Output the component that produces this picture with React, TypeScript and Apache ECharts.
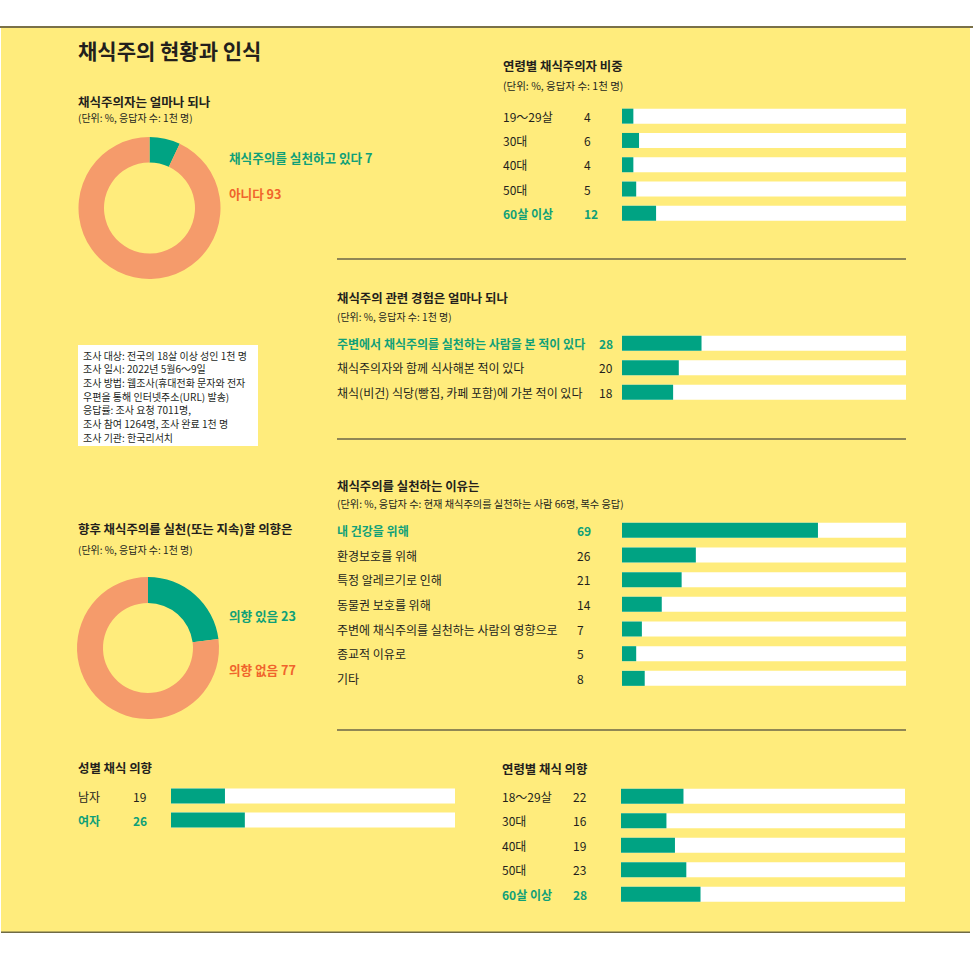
import React, { useEffect, useRef } from 'react';
import * as echarts from 'echarts';

const FONT = "'Noto Sans CJK KR', 'Noto Sans', sans-serif";
const GREEN = '#00a383';
const GREEN_TEXT = '#10a078';
const ORANGE = '#f59b6b';
const ORANGE_TEXT = '#f0642c';
const DARK = '#231f1c';
const YELLOW = '#ffec7c';

// ---- data ----
const mainTitle = '채식주의 현황과 인식';

const vegShareTitle = '채식주의자는 얼마나 되나';
const vegShareNames = ['채식주의를 실천하고 있다', '아니다'];
const vegShareValues = [7, 93];

const ageShareTitle = '연령별 채식주의자 비중';
const ageShareLabels = ['19～29살', '30대', '40대', '50대', '60살 이상'];
const ageShareValues = [4, 6, 4, 5, 12];

const expTitle = '채식주의 관련 경험은 얼마나 되나';
const expLabels = [
  '주변에서 채식주의를 실천하는 사람을 본 적이 있다',
  '채식주의자와 함께 식사해본 적이 있다',
  '채식(비건) 식당(빵집, 카페 포함)에 가본 적이 있다',
];
const expValues = [28, 20, 18];

const reasonTitle = '채식주의를 실천하는 이유는';
const reasonSub = '(단위: %, 응답자 수: 현재 채식주의를 실천하는 사람 66명, 복수 응답)';
const reasonLabels = [
  '내 건강을 위해',
  '환경보호를 위해',
  '특정 알레르기로 인해',
  '동물권 보호를 위해',
  '주변에 채식주의를 실천하는 사람의 영향으로',
  '종교적 이유로',
  '기타',
];
const reasonValues = [69, 26, 21, 14, 7, 5, 8];

const intentTitle = '향후 채식주의를 실천(또는 지속)할 의향은';
const intentNames = ['의향 있음', '의향 없음'];
const intentValues = [23, 77];

const genderTitle = '성별 채식 의향';
const genderLabels = ['남자', '여자'];
const genderValues = [19, 26];

const ageIntentTitle = '연령별 채식 의향';
const ageIntentLabels = ['18～29살', '30대', '40대', '50대', '60살 이상'];
const ageIntentValues = [22, 16, 19, 23, 28];

const unitSub = '(단위: %, 응답자 수: 1천 명)';

const surveyLines = [
  '조사 대상: 전국의 18살 이상 성인 1천 명',
  '조사 일시: 2022년 5월6～9일',
  '조사 방법: 웹조사(휴대전화 문자와 전자',
  '우편을 통해 인터넷주소(URL) 발송)',
  '응답률: 조사 요청 7011명,',
  '조사 참여 1264명, 조사 완료 1천 명',
  '조사 기관: 한국리서치',
];

export default function App() {
  const ref = useRef<HTMLDivElement>(null);

  useEffect(() => {
    const chart = echarts.init(ref.current!, null, { renderer: 'svg' });

    const barSections = [
      { labels: ageShareLabels, values: ageShareValues, hl: 4, labelX: 503, valueX: 584, left: 622, top: 104, rowH: 24.3 },
      { labels: expLabels, values: expValues, hl: 0, labelX: 337, valueX: 599, left: 622, top: 331, rowH: 24.5 },
      { labels: reasonLabels, values: reasonValues, hl: 0, labelX: 337, valueX: 577, left: 622, top: 518, rowH: 24.67 },
      { labels: genderLabels, values: genderValues, hl: 1, labelX: 78, valueX: 133, left: 171, top: 784, rowH: 24 },
      { labels: ageIntentLabels, values: ageIntentValues, hl: 4, labelX: 502, valueX: 573, left: 621, top: 784, rowH: 24.5 },
    ];

    const txt = (text: string, x: number, y: number, size: number, color = DARK, weight: any = 'normal') => ({
      type: 'text',
      x,
      y,
      silent: true,
      z: 10,
      style: { text, fill: color, fontSize: size, fontWeight: weight, fontFamily: FONT, align: 'left', verticalAlign: 'middle' },
    });

    const graphics: any[] = [
      { type: 'rect', shape: { x: 0, y: 26, width: 973, height: 2 }, style: { fill: '#7a7148' }, z: 0, silent: true },
      { type: 'rect', shape: { x: 1, y: 28, width: 969, height: 904 }, style: { fill: YELLOW }, z: 0, silent: true },
      { type: 'rect', shape: { x: 1, y: 931.5, width: 969, height: 1.6 }, style: { fill: '#6f6a45' }, z: 1, silent: true },
      ...[259, 439, 730].map((y) => ({
        type: 'line',
        shape: { x1: 337, y1: y, x2: 906, y2: y },
        style: { stroke: '#6b6649', lineWidth: 1.5 },
        z: 1,
        silent: true,
      })),
      { type: 'rect', shape: { x: 78, y: 345, width: 180, height: 101 }, style: { fill: '#ffffff' }, z: 1, silent: true },
      ...surveyLines.map((l, i) => txt(l, 83, 355 + i * 13.7, 10)),
      txt(mainTitle, 78, 50, 21, DARK, 'bold'),
      txt(vegShareTitle, 78, 101, 12.5, DARK, 'bold'),
      txt(unitSub, 78, 117, 10),
      txt(ageShareTitle, 503, 66, 12.4, DARK, 'bold'),
      txt(unitSub, 503, 85, 10.5),
      txt(expTitle, 337, 298, 12.4, DARK, 'bold'),
      txt(unitSub, 337, 316, 10),
      txt(reasonTitle, 337, 486, 12.4, DARK, 'bold'),
      txt(reasonSub, 337, 503, 10.2),
      txt(intentTitle, 78, 529, 12.4, DARK, 'bold'),
      txt(unitSub, 78, 549, 10),
      txt(genderTitle, 78, 768, 12.4, DARK, 'bold'),
      txt(ageIntentTitle, 502, 769, 12.4, DARK, 'bold'),
      txt(`${vegShareNames[0]} ${vegShareValues[0]}`, 229, 157, 12.6, GREEN_TEXT, 'bold'),
      txt(`${vegShareNames[1]} ${vegShareValues[1]}`, 229, 193, 12.6, ORANGE_TEXT, 'bold'),
      txt(`${intentNames[0]} ${intentValues[0]}`, 229, 615, 12.6, GREEN_TEXT, 'bold'),
      txt(`${intentNames[1]} ${intentValues[1]}`, 229, 669, 12.6, ORANGE_TEXT, 'bold'),
    ];

    const labelSize = 12;

    const option: any = {
      animation: false,
      backgroundColor: '#ffffff',
      textStyle: { fontFamily: FONT },
      graphic: { elements: graphics },
      grid: barSections.map((s) => ({
        left: s.left,
        top: s.top,
        width: 284,
        height: s.rowH * s.labels.length,
        containLabel: false,
      })),
      xAxis: barSections.map((_, i) => ({ gridIndex: i, type: 'value', min: 0, max: 100, show: false })),
      yAxis: barSections.map((s, i) => ({
        gridIndex: i,
        type: 'category',
        inverse: true,
        data: s.labels,
        axisLine: { show: false },
        axisTick: { show: false },
        splitLine: { show: false },
        axisLabel: {
          show: true,
          interval: 0,
          align: 'left',
          margin: s.left - s.labelX,
          formatter: (v: string, idx: number) => {
            const h = idx === s.hl;
            return `{${h ? 'nh' : 'n'}|${v}}{${h ? 'vh' : 'v'}|${s.values[idx]}}`;
          },
          rich: {
            n: { width: s.valueX - s.labelX, fontSize: labelSize, color: DARK, fontFamily: FONT },
            nh: { width: s.valueX - s.labelX, fontSize: labelSize, color: GREEN_TEXT, fontWeight: 'bold', fontFamily: FONT },
            v: { fontSize: labelSize, color: DARK, fontFamily: FONT },
            vh: { fontSize: labelSize, color: GREEN_TEXT, fontWeight: 'bold', fontFamily: FONT },
          },
        },
      })),
      series: [
        ...barSections.map((s, i) => ({
          type: 'bar',
          xAxisIndex: i,
          yAxisIndex: i,
          data: s.values,
          barWidth: 15,
          itemStyle: { color: GREEN },
          showBackground: true,
          backgroundStyle: { color: '#ffffff' },
          silent: true,
          z: 5,
        })),
        {
          type: 'pie',
          center: [149.5, 208],
          radius: [45.5, 71],
          startAngle: 90,
          clockwise: true,
          silent: true,
          label: { show: false },
          labelLine: { show: false },
          data: vegShareNames.map((n, i) => ({ name: n, value: vegShareValues[i], itemStyle: { color: i === 0 ? GREEN : ORANGE } })),
          z: 5,
        },
        {
          type: 'pie',
          center: [148, 648],
          radius: [45, 71],
          startAngle: 90,
          clockwise: true,
          silent: true,
          label: { show: false },
          labelLine: { show: false },
          data: intentNames.map((n, i) => ({ name: n, value: intentValues[i], itemStyle: { color: i === 0 ? GREEN : ORANGE } })),
          z: 5,
        },
      ],
    };

    chart.setOption(option);
    return () => chart.dispose();
  }, []);

  return <div ref={ref} style={{ position: 'absolute', left: 0, top: 0, width: 973, height: 967 }} />;
}
